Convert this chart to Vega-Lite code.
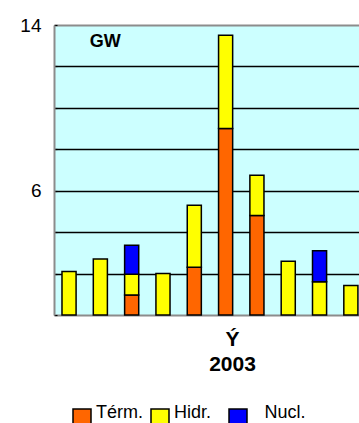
{
  "$schema": "https://vega.github.io/schema/vega-lite/v6.json",
  "width": 305,
  "height": 290,
  "autosize": {"type": "none"},
  "padding": {"left": 54, "top": 25, "right": 0, "bottom": 108},
  "background": "white",
  "config": {
    "font": "Liberation Sans",
    "view": {"fill": "#CCFFFF", "stroke": null}
  },
  "datasets": {
    "gen": [
      {"m": 1, "tipo": "Hidr.", "v": 2.1},
      {"m": 2, "tipo": "Hidr.", "v": 2.7},
      {"m": 3, "tipo": "Térm.", "v": 0.97},
      {"m": 3, "tipo": "Hidr.", "v": 1.0},
      {"m": 3, "tipo": "Nucl.", "v": 1.4},
      {"m": 4, "tipo": "Hidr.", "v": 2.0},
      {"m": 5, "tipo": "Térm.", "v": 2.3},
      {"m": 5, "tipo": "Hidr.", "v": 3.0},
      {"m": 6, "tipo": "Térm.", "v": 9.0},
      {"m": 6, "tipo": "Hidr.", "v": 4.5},
      {"m": 7, "tipo": "Térm.", "v": 4.8},
      {"m": 7, "tipo": "Hidr.", "v": 1.95},
      {"m": 8, "tipo": "Hidr.", "v": 2.6},
      {"m": 9, "tipo": "Hidr.", "v": 1.6},
      {"m": 9, "tipo": "Nucl.", "v": 1.5},
      {"m": 10, "tipo": "Hidr.", "v": 1.43}
    ],
    "lbl": [{"t": "GW", "m": 2, "v": 13.2}]
  },
  "resolve": {"axis": {"x": "independent"}},
  "layer": [
    {
      "data": {"name": "gen"},
      "transform": [{"calculate": "indexof(['Térm.','Hidr.','Nucl.'], datum.tipo)", "as": "o"}],
      "mark": {"type": "bar", "stroke": "black", "strokeWidth": 1.5, "opacity": 1},
      "encoding": {
        "x": {
          "field": "m", "type": "ordinal",
          "scale": {"paddingInner": 0.55, "paddingOuter": 0.145, "align": 0.88},
          "axis": {
            "title": ["Ý", "2003"],
            "labels": false, "ticks": false,
            "domain": true, "domainColor": "#8c8c8c", "domainWidth": 2,
            "titleFontSize": 21, "titleFontWeight": "bold", "titleColor": "black",
            "titleX": 178, "titleY": 30, "titleAlign": "center", "titleBaseline": "alphabetic",
            "titleLineHeight": 25
          }
        },
        "y": {
          "field": "v", "type": "quantitative", "stack": "zero",
          "scale": {"domain": [0, 14], "nice": false},
          "axis": {
            "title": null,
            "values": [0, 0.5, 1, 1.5, 2, 2.5, 3, 3.5, 4, 4.5, 5, 5.5, 6, 6.5, 7, 7.5, 8, 8.5, 9, 9.5, 10, 10.5, 11, 11.5, 12, 12.5, 13, 13.5, 14],
            "labelExpr": "datum.value == 14 || datum.value == 6 ? datum.label : ''",
            "labelFontSize": 19, "labelColor": "black", "labelPadding": 16,
            "domain": true, "domainColor": "#8c8c8c", "domainWidth": 2,
            "tickColor": "black", "tickSize": -3, "tickWidth": 1.2,
            "grid": true, "gridColor": "black", "gridWidth": 1.5,
            "gridOpacity": {"condition": {"test": "datum.value % 2 == 0 && datum.value > 0 && datum.value < 14", "value": 1}, "value": 0}
          }
        },
        "color": {
          "field": "tipo", "type": "nominal",
          "scale": {"domain": ["Térm.", "Hidr.", "Nucl."], "range": ["#FF6600", "#FFFF00", "#0000FF"]},
          "legend": {
            "orient": "none", "legendX": 18, "legendY": 383,
            "direction": "horizontal", "title": null,
            "symbolType": "square", "symbolSize": 324,
            "symbolStrokeColor": "black", "symbolStrokeWidth": 1.5, "symbolOpacity": 1,
            "labelFontSize": 18, "labelColor": "black", "labelOffset": 4,
            "labelBaseline": "alphabetic",
            "columnPadding": -2, "gridAlign": "all",
            "labelExpr": "datum.label == 'Nucl.' ? '\u200b\u2002\u2009Nucl.' : datum.label"
          }
        },
        "order": {"field": "o", "type": "quantitative"}
      }
    },
    {
      "data": {"name": "lbl"},
      "mark": {"type": "text", "fontWeight": "bold", "fontSize": 18, "color": "black", "dx": 5},
      "encoding": {
        "x": {
          "field": "m", "type": "ordinal",
          "axis": {"orient": "top", "title": null, "labels": false, "ticks": false, "domain": true, "domainColor": "#8c8c8c", "domainWidth": 2}
        },
        "y": {"field": "v", "type": "quantitative"},
        "text": {"field": "t"}
      }
    }
  ]
}
